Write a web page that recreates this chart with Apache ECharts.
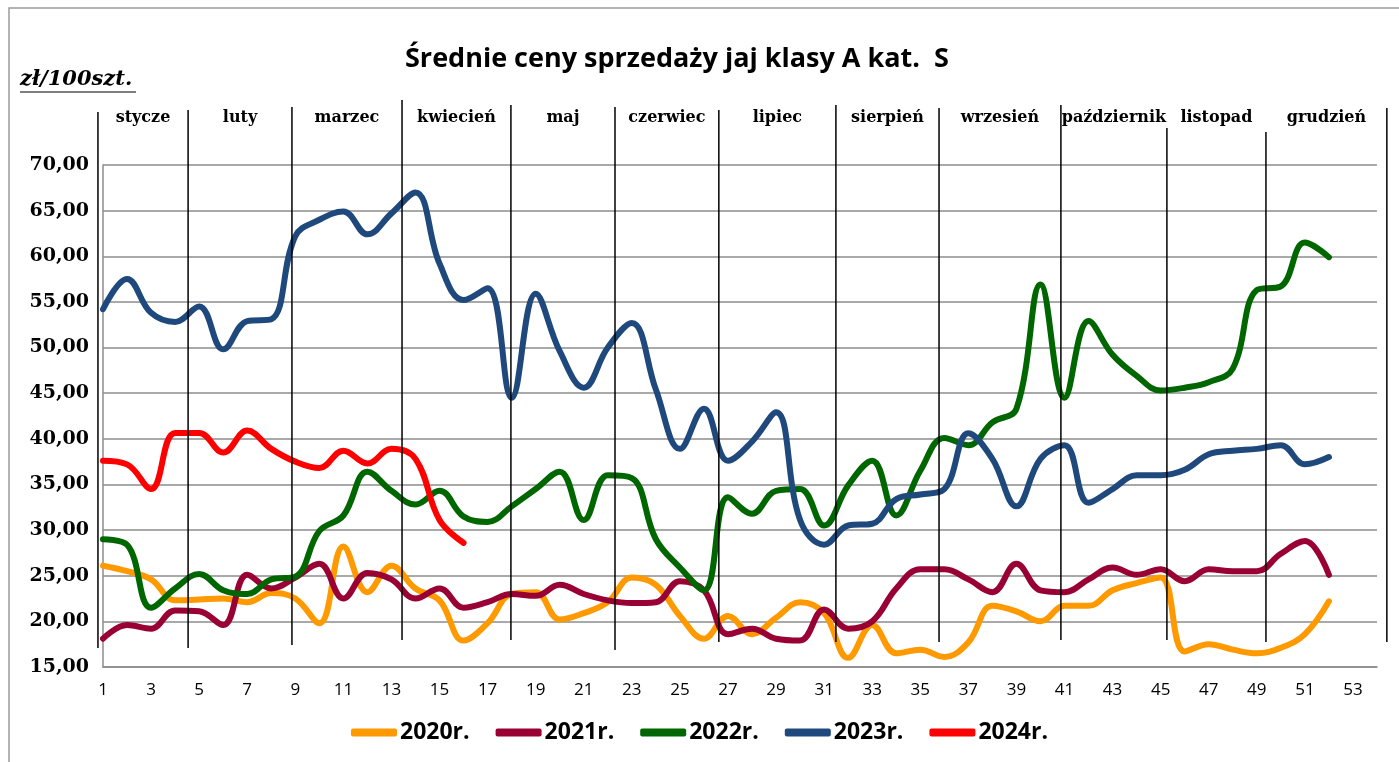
<!DOCTYPE html>
<html>
<head>
<meta charset="utf-8">
<script src="https://cdn.jsdelivr.net/npm/echarts@6/dist/echarts.min.js"></script>
<style>
  html, body { margin: 0; padding: 0; background: #fff; }
  #echartEggs { width: 1399px; height: 762px; }
</style>
</head>
<body>
<div id="echartEggs"></div>
<script>
// Srednie ceny sprzedazy jaj klasy A kat. S - tygodniowo
'use strict';

var years = ['2020r.', '2021r.', '2022r.', '2023r.', '2024r.'];
var yearColors = ['#FF9900', '#990033', '#006600', '#1F497D', '#FF0000'];

var weekLabels = [1, 3, 5, 7, 9, 11, 13, 15, 17, 19, 21, 23, 25, 27, 29, 31, 33, 35, 37, 39, 41, 43, 45, 47, 49, 51, 53];

var months = ['stycze', 'luty', 'marzec', 'kwiecień', 'maj', 'czerwiec', 'lipiec',
    'sierpień', 'wrzesień', 'październik', 'listopad', 'grudzień'];
// granice miesiecy w jednostkach tygodnia
var monthBreaks = [0.79, 4.54, 8.86, 13.44, 17.97, 22.3, 26.62, 31.49, 35.78, 40.85, 45.26, 49.38, 54.41];

var prices2020 = [26.1, 25.5, 24.6, 22.3, 22.4, 22.5, 22.1, 23.1, 22.5, 19.8, 28.2, 23.2, 26.1, 23.6, 22.3, 17.9,
    19.8, 23.0, 23.2, 20.2, 20.9, 22.1, 24.8, 24.0, 20.6, 18.1, 20.6, 18.6, 20.4, 22.1, 20.9, 16.0,
    19.6, 16.5, 16.9, 16.1, 17.7, 21.7, 21.1, 20.0, 21.7, 21.7, 23.4, 24.2, 24.8, 16.7, 17.5, 16.9,
    16.5, 17.1, 18.6, 22.2];
var prices2021 = [18.1, 19.6, 19.2, 21.2, 21.1, 19.6, 25.1, 23.6, 24.8, 26.3, 22.5, 25.3, 24.6, 22.5, 23.6, 21.5,
    22.1, 23.0, 22.8, 24.0, 23.0, 22.3, 22.0, 22.1, 24.4, 23.4, 18.6, 19.2, 18.1, 17.9, 21.3, 19.2,
    20.0, 23.6, 25.7, 25.7, 24.6, 23.2, 26.3, 23.4, 23.2, 24.6, 25.9, 25.1, 25.7, 24.4, 25.7, 25.5,
    25.5, 27.4, 28.8, 25.1];
var prices2022 = [29.0, 28.4, 21.5, 23.6, 25.2, 23.4, 23.0, 24.6, 24.9, 29.9, 31.6, 36.4, 34.3, 32.8, 34.3, 31.5,
    30.9, 32.6, 34.5, 36.4, 31.1, 36.0, 35.7, 29.0, 25.9, 23.4, 33.6, 31.8, 34.3, 34.5, 30.5, 34.9,
    37.6, 31.6, 36.5, 40.1, 39.3, 41.8, 43.3, 56.9, 44.5, 52.9, 49.2, 46.9, 45.3, 45.6, 46.2, 47.7,
    56.3, 56.7, 61.5, 59.9];
var prices2023 = [54.2, 57.5, 53.8, 52.8, 54.5, 49.8, 52.9, 53.1, 62.2, 64.0, 64.9, 62.4, 64.7, 67.0, 59.2, 55.2,
    56.5, 44.5, 55.9, 49.6, 45.6, 50.0, 52.7, 45.4, 38.9, 43.3, 37.6, 39.7, 42.9, 31.1, 28.4, 30.5,
    30.7, 33.4, 33.9, 34.5, 40.6, 37.8, 32.6, 37.8, 39.3, 33.0, 34.5, 36.0, 36.0, 36.6, 38.3, 38.7,
    38.9, 39.3, 37.2, 38.0];
var prices2024 = [37.6, 37.2, 34.5, 40.65, 40.65, 38.5, 40.9, 38.9, 37.5, 36.8, 38.7, 37.3, 38.9, 37.8, 31.1, 28.6];

var yearPrices = [prices2020, prices2021, prices2022, prices2023, prices2024];

var serifBold = '"DejaVu Serif", serif';
var sans = '"Open Sans", "Noto Sans", sans-serif';

var gridBox = { left: 103, right: 22, top: 165, bottom: 95 };

var echartElem = document.getElementById('echartEggs');
if (echartElem) {
    var echartEggs = echarts.init(echartElem);

    var seriesList = years.map(function (name, i) {
        return {
            name: name,
            type: 'line',
            smooth: 0.4,
            showSymbol: false,
            symbol: 'none',
            color: yearColors[i],
            lineStyle: { width: 6, color: yearColors[i], cap: 'round', join: 'round' },
            data: yearPrices[i].map(function (v, k) { return [k + 1, v]; })
        };
    });

    echartEggs.setOption({
        animation: false,
        backgroundColor: '#fff',
        title: {
            text: 'Średnie ceny sprzedaży jaj klasy A kat.  S',
            left: 400,
            top: 41,
            textStyle: { fontFamily: sans, fontWeight: 'bold', fontSize: 27, color: '#000' }
        },
        legend: {
            bottom: 13,
            left: 'center',
            icon: 'roundRect',
            itemWidth: 46,
            itemHeight: 8,
            itemGap: 26,
            data: years,
            textStyle: { fontFamily: sans, fontWeight: 'bold', fontSize: 23, color: '#000', padding: [0, 0, 0, -2] }
        },
        grid: gridBox,
        xAxis: {
            type: 'value',
            min: 1,
            max: 54,
            axisLine: { show: true, lineStyle: { color: '#8c8c8c', width: 1.5 } },
            axisTick: { show: false },
            splitLine: { show: false },
            axisLabel: {
                customValues: weekLabels,
                margin: 15,
                fontFamily: sans,
                fontSize: 17,
                color: '#000'
            }
        },
        yAxis: {
            type: 'value',
            min: 15,
            max: 70,
            interval: 5,
            axisLine: { show: true, lineStyle: { color: '#8c8c8c', width: 1.5 } },
            axisTick: { show: false },
            splitLine: { show: true, lineStyle: { color: '#8c8c8c', width: 1.5 } },
            axisLabel: {
                margin: 14,
                fontFamily: serifBold,
                fontWeight: 'bold',
                fontSize: 19,
                color: '#000',
                formatter: function (v) { return v.toFixed(2).replace('.', ','); }
            }
        },
        series: seriesList
    });

    // linie podzialu miesiecy i ich nazwy
    var lineTops = [112, 110, 107, 100, 105, 107, 110, 105, 108, 105, 128, 132, 108];
    var lineBottoms = [648, 648, 645, 640, 640, 650, 642, 642, 642, 640, 640, 642, 642];
    var xs = monthBreaks.map(function (w) {
        return echartEggs.convertToPixel({ xAxisIndex: 0 }, w);
    });
    var extras = [];
    xs.forEach(function (x, i) {
        extras.push({
            type: 'line',
            z: 100,
            shape: { x1: x, y1: lineTops[i], x2: x, y2: lineBottoms[i] },
            style: { stroke: '#000', lineWidth: 1.5 }
        });
    });
    months.forEach(function (m, i) {
        extras.push({
            type: 'text',
            z: 100,
            x: (xs[i] + xs[i + 1]) / 2,
            y: 118,
            style: {
                text: m,
                fill: '#000',
                font: 'bold 16px ' + serifBold,
                align: 'center',
                verticalAlign: 'middle'
            }
        });
    });
    // jednostka
    extras.push({
        type: 'text',
        x: 20,
        y: 80,
        style: {
            text: 'zł/100szt.',
            fill: '#000',
            font: 'italic bold 21px ' + serifBold,
            align: 'left',
            verticalAlign: 'middle'
        }
    });
    extras.push({
        type: 'line',
        shape: { x1: 20, y1: 92, x2: 136, y2: 92 },
        style: { stroke: '#000', lineWidth: 1.2 }
    });
    // ramka
    extras.push({
        type: 'rect',
        z: -1,
        shape: { x: 9, y: 8, width: 1420, height: 800 },
        style: { fill: 'none', stroke: '#9a9a9a', lineWidth: 1.5 }
    });
    echartEggs.setOption({ graphic: extras });
}
</script>
</body>
</html>
